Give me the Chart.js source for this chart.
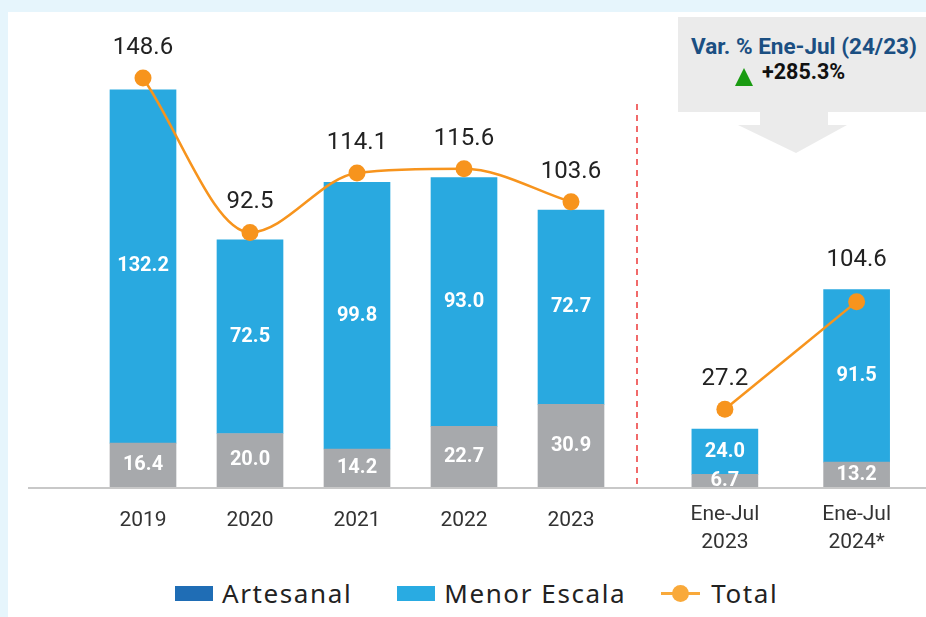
<!DOCTYPE html>
<html>
<head>
<meta charset="utf-8">
<script src="https://cdn.jsdelivr.net/npm/chart.js@4"></script>
<style>
  html, body { margin: 0; padding: 0; }
  body { width: 926px; height: 617px; overflow: hidden; position: relative; background: #e6f5fc; font-family: Roboto, sans-serif; }
  #panel { position: absolute; left: 8px; top: 12px; right: 0; bottom: 0; background: #fff; }
  #left { position: absolute; left: 8px; top: 12px; }
  #right { position: absolute; left: 636px; top: 12px; }
  #callout { position: absolute; left: 678px; top: 17px; width: 248px; height: 136px; background: #ebebeb;
    clip-path: polygon(0 0, 248px 0, 248px 95px, 150px 95px, 150px 108px, 169px 108px, 118px 136px, 60px 108px, 82px 108px, 82px 95px, 0 95px); }
  #callout .t1 { position: absolute; left: 0; width: 252px; top: 16px; text-align: center; font: bold 22.5px Roboto; color: #1b4f82; white-space: nowrap; }
  #callout .t2 { position: absolute; left: 84px; top: 42px; font: bold 21.5px Roboto; color: #111; }
  #callout .up { position: absolute; left: 57px; top: 51px; width: 0; height: 0; border-left: 9px solid transparent; border-right: 9px solid transparent; border-bottom: 18px solid #1a9b12; }
  #legend { position: absolute; left: 175px; top: 575px; display: flex; align-items: center; font: 26px "Noto Sans"; letter-spacing: 1.6px; color: #222; }
  #legend .item { display: flex; align-items: center; }
  #legend .box { width: 38px; height: 15px; margin-right: 9px; }
  #legend .ln { width: 39px; height: 3px; background: #f9a93a; position: relative; margin-right: 11px; }
  #legend .ln::after { content: ""; position: absolute; left: 11px; top: -7px; width: 17px; height: 17px; border-radius: 50%; background: #f9a93a; }
</style>
</head>
<body>
<div id="panel"></div>
<canvas id="left" width="628" height="548"></canvas>
<canvas id="right" width="295" height="548"></canvas>
<div id="callout">
  <div class="t1">Var. % Ene-Jul (24/23)</div>
  <div class="up"></div>
  <div class="t2">+285.3%</div>
</div>
<div id="legend"></div>
<script>
// annual figures
const years = ['2019', '2020', '2021', '2022', '2023'];
const artesanalYears = [16.4, 20.0, 14.2, 22.7, 30.9];
const menorYears = [132.2, 72.5, 99.8, 93.0, 72.7];
const totalYears = [148.6, 92.5, 114.1, 115.6, 103.6];

// january-july figures
const periods = ['Ene-Jul 2023', 'Ene-Jul 2024*'];
const artesanalPeriods = [6.7, 13.2];
const menorPeriods = [24.0, 91.5];
const totalPeriods = [27.2, 104.6];

const seriesNames = ['Artesanal', 'Menor Escala', 'Total'];

Chart.defaults.font.family = 'Roboto';

const GRAY = '#a7a9ac', BLUE = '#29a9e0', ORANGE = '#f7941d';

var valueLabels = {
  id: 'valueLabels',
  afterDatasetsDraw: function(chart) {
    var ctx = chart.ctx;
    ctx.save();
    ctx.textAlign = 'center';
    ctx.textBaseline = 'middle';
    chart.data.datasets.forEach(function(ds, i) {
      var meta = chart.getDatasetMeta(i);
      meta.data.forEach(function(el, j) {
        var txt = ds.data[j].toFixed(1);
        if (ds.type === 'line') {
          var top = el.y;
          chart.data.datasets.forEach(function(d, k) {
            if (d.type !== 'line') top = Math.min(top, chart.getDatasetMeta(k).data[j].y);
          });
          ctx.fillStyle = '#222';
          ctx.font = '24px Roboto';
          ctx.fillText(txt, el.x, top - 30);
        } else {
          ctx.fillStyle = '#fff';
          ctx.font = 'bold 20px Roboto';
          ctx.fillText(txt, el.x, (el.y + el.base) / 2);
        }
      });
    });
    ctx.restore();
  }
};

var baseline = {
  id: 'baseline',
  beforeDatasetsDraw: function(chart, args, opts) {
    var ctx = chart.ctx, y = chart.scales.y.getPixelForValue(0) + 1;
    ctx.save();
    ctx.strokeStyle = '#c8c8c8';
    ctx.lineWidth = 2;
    ctx.beginPath();
    ctx.moveTo(opts.from, y);
    ctx.lineTo(chart.width, y);
    ctx.stroke();
    if (opts.divider) {
      ctx.strokeStyle = '#ee4545';
      ctx.lineWidth = 1.6;
      ctx.setLineDash([6, 5]);
      ctx.beginPath();
      ctx.moveTo(1, 92);
      ctx.lineTo(1, y);
      ctx.stroke();
    }
    ctx.restore();
  }
};

function makeChart(id, labels, art, menor, total, o) {
  return new Chart(document.getElementById(id), {
    type: 'bar',
    data: {
      labels: labels,
      datasets: [
        { label: seriesNames[0], data: art, backgroundColor: GRAY, barThickness: 66, order: 2 },
        { label: seriesNames[1], data: menor, backgroundColor: BLUE, barThickness: 66, order: 2 },
        { type: 'line', label: seriesNames[2], data: total, yAxisID: 'yl', borderColor: ORANGE, backgroundColor: ORANGE,
          borderWidth: 2.5, pointRadius: 8.5, pointBackgroundColor: ORANGE, pointBorderWidth: 0,
          cubicInterpolationMode: 'monotone', clip: false, order: 1 }
      ]
    },
    options: {
      responsive: false,
      animation: false,
      layout: { padding: o.padding },
      plugins: { legend: { display: false }, tooltip: { enabled: false }, baseline: { from: o.from, divider: o.divider } },
      scales: {
        x: {
          stacked: true,
          grid: { display: false, drawTicks: false },
          border: { display: false },
          ticks: {
            color: '#333', padding: o.tickPad, font: { size: 21, lineHeight: 1.33 },
            callback: function(v) { return this.getLabelForValue(v).split(' '); }
          },
          afterFit: function(s) { s.height = 73; }
        },
        y: { stacked: true, display: false, min: 0, max: o.barMax },
        yl: { display: false, min: o.lineMin, max: o.lineMax }
      }
    },
    plugins: [baseline, valueLabels]
  });
}

makeChart('left', years, artesanalYears, menorYears, totalYears,
  { padding: { left: 81.5, right: 11.5, top: 0, bottom: 0 }, from: 20, divider: false, tickPad: 20,
    barMax: 174.5, lineMin: 0, lineMax: 169.5 });

makeChart('right', periods, artesanalPeriods, menorPeriods, totalPeriods,
  { padding: { left: 23, right: 0, top: 0, bottom: 0 }, from: 0, divider: true, tickPad: 14,
    barMax: 247.5, lineMin: -28.7, lineMax: 306.8 });

// legend (swatch colours as in the original legend)
var swatches = ['#1f6db5', '#29abe2'];
var legend = document.getElementById('legend');
seriesNames.forEach(function(name, i) {
  var item = document.createElement('div');
  item.className = 'item';
  item.style.marginRight = i === 0 ? '45px' : (i === 1 ? '35px' : '0');
  var mark = document.createElement('div');
  if (i < 2) { mark.className = 'box'; mark.style.background = swatches[i]; }
  else mark.className = 'ln';
  var txt = document.createElement('span');
  txt.textContent = name;
  item.appendChild(mark);
  item.appendChild(txt);
  legend.appendChild(item);
});
</script>
</body>
</html>
